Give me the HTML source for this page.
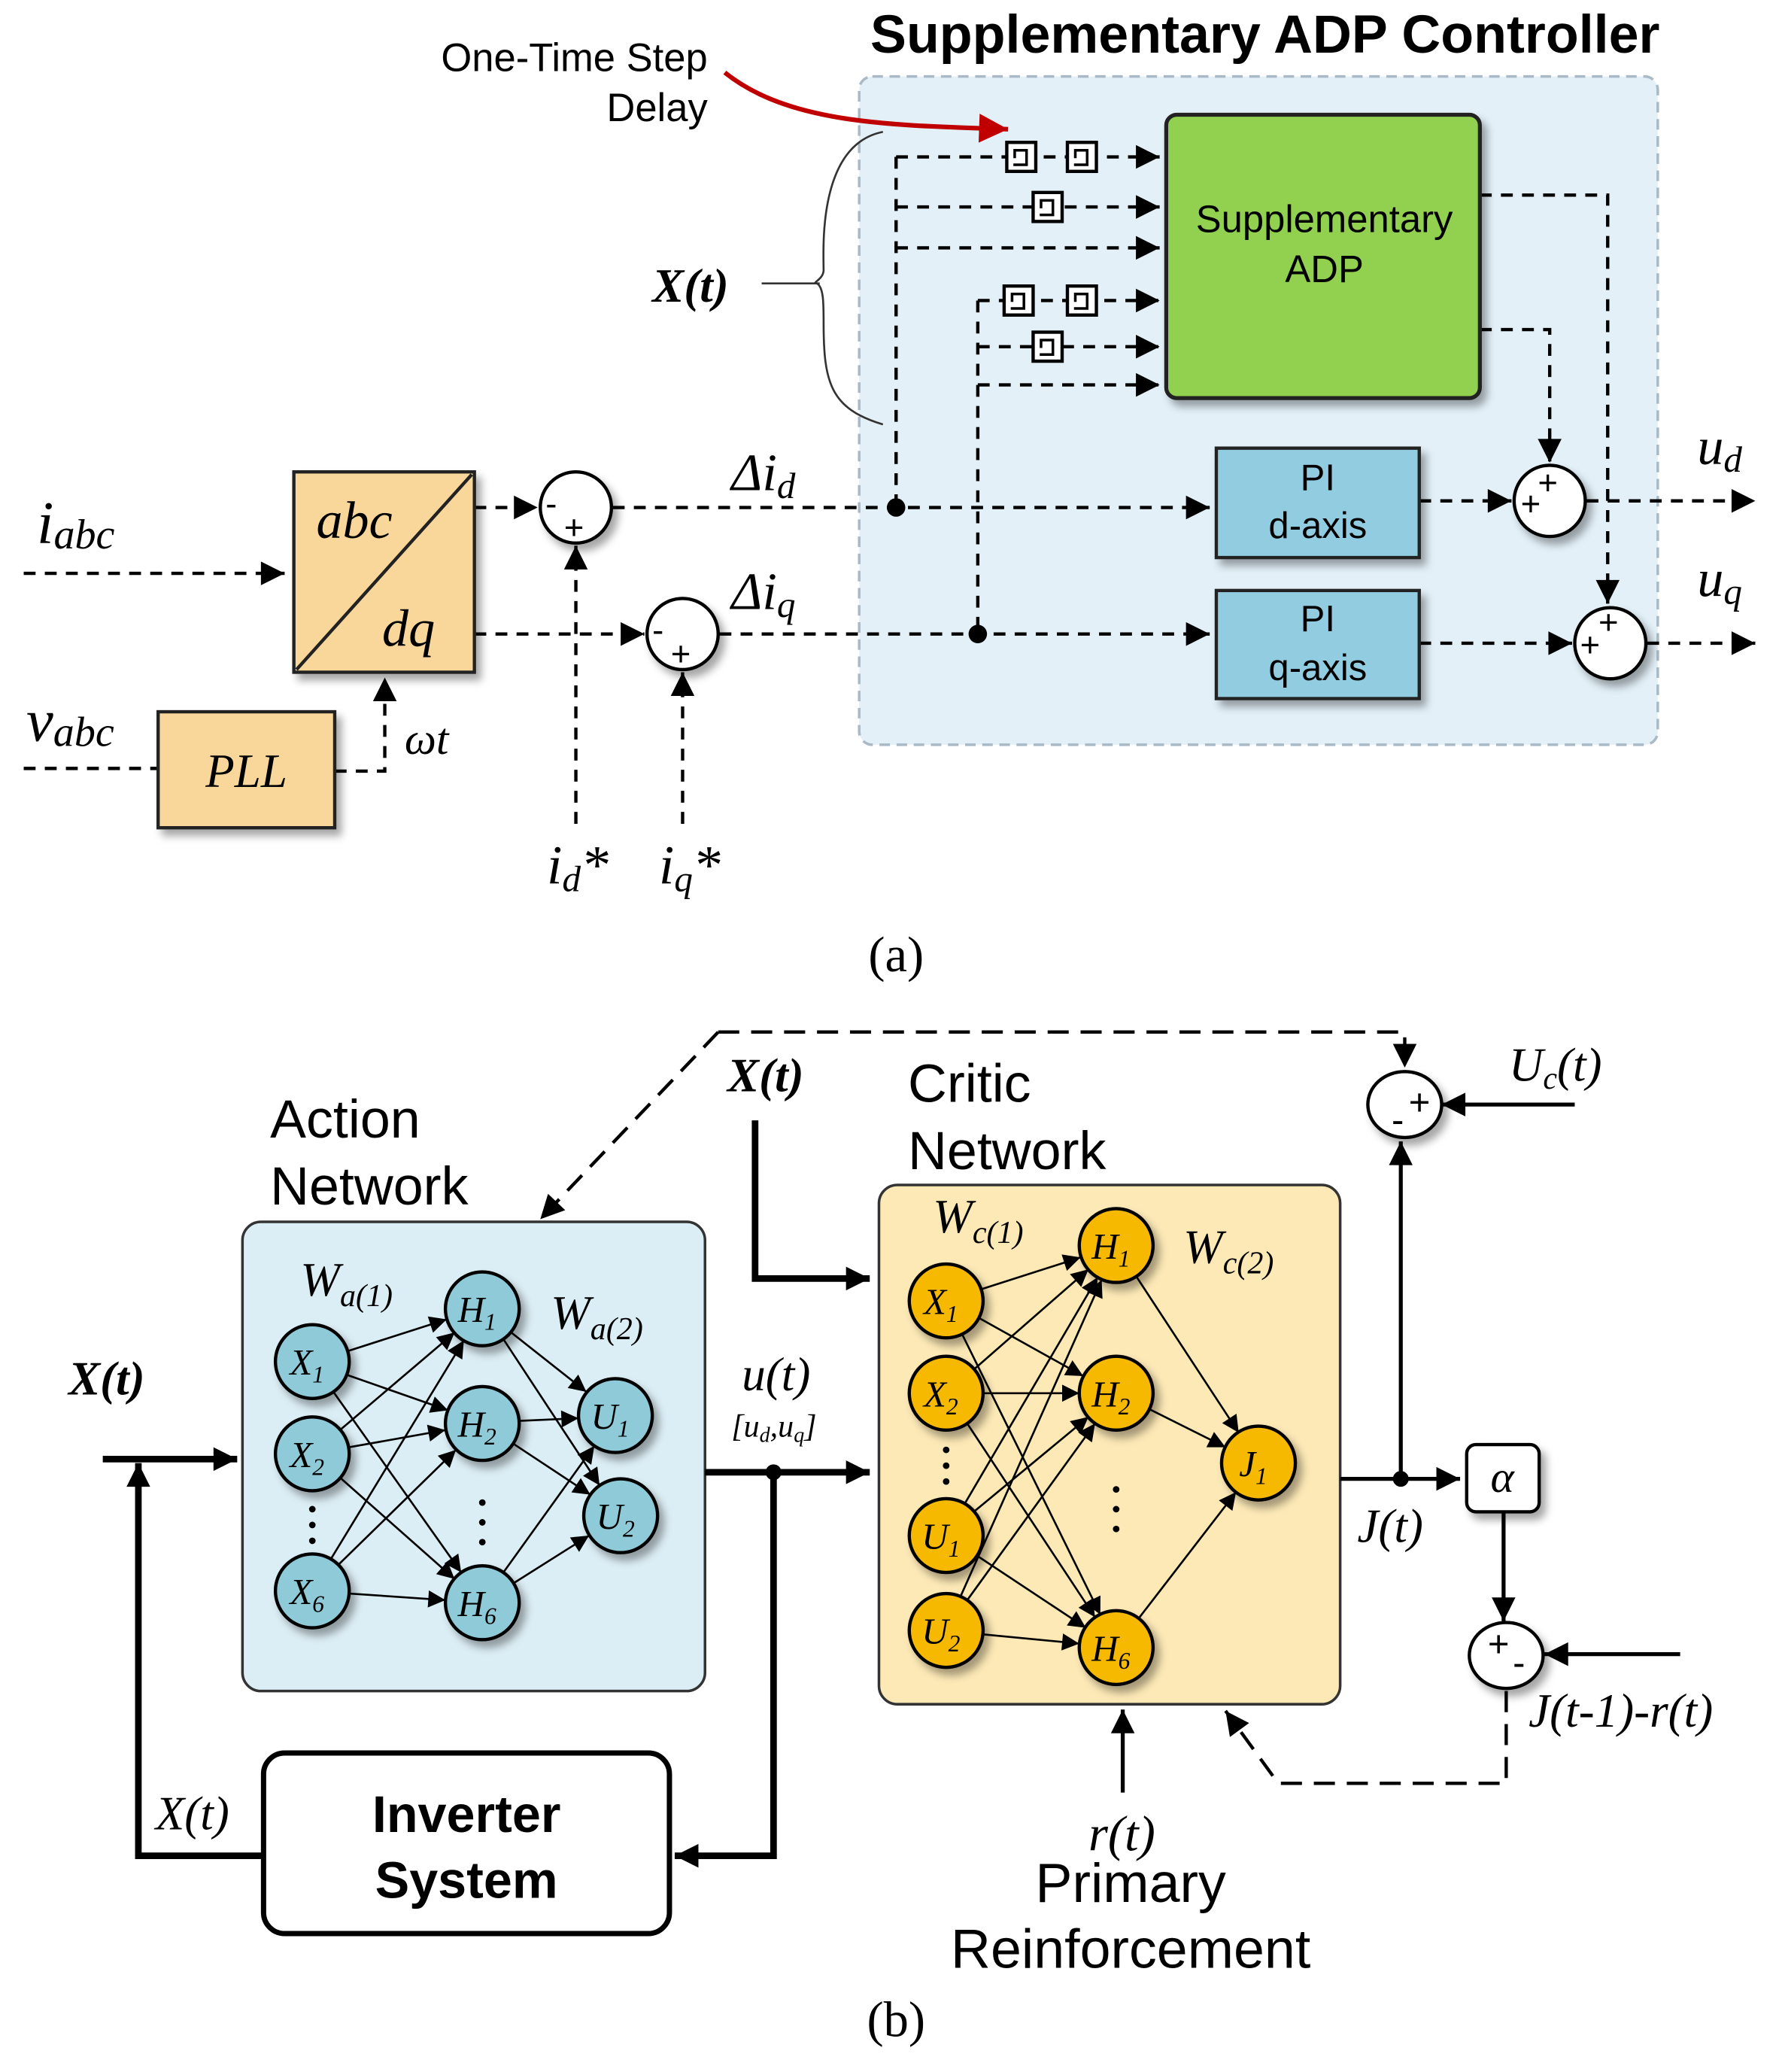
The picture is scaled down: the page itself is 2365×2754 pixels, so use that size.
<!DOCTYPE html>
<html><head><meta charset="utf-8"><style>
html,body{margin:0;padding:0;background:#fff;}
svg{display:block;}
.s{font-family:"Liberation Sans",sans-serif;}
.m{font-family:"Liberation Serif",serif;font-style:italic;}
</style></head><body>
<svg width="2365" height="2754" viewBox="0 0 1350 1572" xmlns="http://www.w3.org/2000/svg">
<defs>
<marker id="a" viewBox="0 0 10 10" refX="10" refY="5" markerWidth="26" markerHeight="18" markerUnits="userSpaceOnUse" orient="auto"><path d="M0,0 L10,5 L0,10 z" fill="#000"/></marker>
<marker id="n" viewBox="0 0 10 10" refX="10" refY="5" markerWidth="18" markerHeight="13" markerUnits="userSpaceOnUse" orient="auto"><path d="M0,0 L10,5 L0,10 z" fill="#000"/></marker>
<marker id="r" viewBox="0 0 10 10" refX="10" refY="5" markerWidth="30" markerHeight="22" markerUnits="userSpaceOnUse" orient="auto"><path d="M0,0 L10,5 L0,10 z" fill="#c00000"/></marker>
<filter id="sh" x="-30%" y="-30%" width="170%" height="170%"><feDropShadow dx="4" dy="5" stdDeviation="3" flood-color="#000" flood-opacity="0.35"/></filter>
</defs>

<!-- ============ (a) ============ -->
<text x="960" y="40" class="s" font-size="41" font-weight="bold" text-anchor="middle">Supplementary ADP Controller</text>
<text x="537" y="54" class="s" font-size="30" text-anchor="end">One-Time Step</text>
<text x="537" y="92" class="s" font-size="30" text-anchor="end">Delay</text>

<rect x="652" y="58" width="606" height="507" rx="10" fill="#e3f0f8" stroke="#a9bac6" stroke-width="2" stroke-dasharray="8,5"/>
<path d="M550,55 C600,95 680,95 765,98" fill="none" stroke="#c00000" stroke-width="3.5" marker-end="url(#r)"/>

<g stroke="#000" stroke-width="2.5" stroke-dasharray="9,7" fill="none">
<line x1="680" y1="119" x2="880" y2="119" marker-end="url(#a)"/>
<line x1="680" y1="157" x2="880" y2="157" marker-end="url(#a)"/>
<line x1="680" y1="188" x2="880" y2="188" marker-end="url(#a)"/>
<line x1="742" y1="228" x2="880" y2="228" marker-end="url(#a)"/>
<line x1="742" y1="263" x2="880" y2="263" marker-end="url(#a)"/>
<line x1="742" y1="292" x2="880" y2="292" marker-end="url(#a)"/>
<line x1="680" y1="119" x2="680" y2="385"/>
<line x1="742" y1="228" x2="742" y2="481"/>
<line x1="18" y1="435" x2="216" y2="435" marker-end="url(#a)"/>
<line x1="18" y1="583" x2="120" y2="583"/>
<polyline points="254,585 292,585 292,514" marker-end="url(#a)"/>
<line x1="360" y1="385" x2="408" y2="385" marker-end="url(#a)"/>
<line x1="360" y1="481" x2="489" y2="481" marker-end="url(#a)"/>
<line x1="437" y1="625" x2="437" y2="414" marker-end="url(#a)"/>
<line x1="518" y1="625" x2="518" y2="510" marker-end="url(#a)"/>
<line x1="465" y1="385" x2="918" y2="385" marker-end="url(#a)"/>
<line x1="546" y1="481" x2="918" y2="481" marker-end="url(#a)"/>
<line x1="1077" y1="380" x2="1147" y2="380" marker-end="url(#a)"/>
<line x1="1077" y1="488" x2="1193" y2="488" marker-end="url(#a)"/>
<line x1="1204" y1="380" x2="1332" y2="380" marker-end="url(#a)"/>
<line x1="1250" y1="488" x2="1332" y2="488" marker-end="url(#a)"/>
<polyline points="1123,148 1220,148 1220,458" marker-end="url(#a)"/>
<polyline points="1123,250 1176,250 1176,351" marker-end="url(#a)"/>
</g>

<g stroke="#000" stroke-width="2.5" fill="#fff">
<rect x="764" y="108" width="22" height="22"/><rect x="810" y="108" width="22" height="22"/>
<rect x="784" y="146" width="22" height="22"/>
<rect x="762" y="217" width="22" height="22"/><rect x="810" y="217" width="22" height="22"/>
<rect x="784" y="252" width="22" height="22"/>
</g>
<g stroke="#000" stroke-width="2" fill="none">
<path d="M769,125 h10 v-11 h-9 v6"/><path d="M815,125 h10 v-11 h-9 v6"/>
<path d="M789,163 h10 v-11 h-9 v6"/>
<path d="M767,234 h10 v-11 h-9 v6"/><path d="M815,234 h10 v-11 h-9 v6"/>
<path d="M789,269 h10 v-11 h-9 v6"/>
</g>

<rect x="885" y="87" width="238" height="215" rx="8" fill="#92d050" stroke="#222" stroke-width="3" filter="url(#sh)"/>
<text x="1005" y="176" class="s" font-size="29" text-anchor="middle">Supplementary</text>
<text x="1005" y="214" class="s" font-size="29" text-anchor="middle">ADP</text>

<path d="M670,100 C620,110 625,190 625,205 C625,212 615,215 620,215 C625,218 625,230 625,245 C625,290 630,310 670,322" fill="none" stroke="#333" stroke-width="1.5"/>
<line x1="578" y1="215" x2="622" y2="215" stroke="#333" stroke-width="1.5"/>
<text x="495" y="229" class="m" font-size="36" font-weight="bold">X(t)</text>

<rect x="223" y="358" width="137" height="152" fill="#f9d79b" stroke="#222" stroke-width="2.5" filter="url(#sh)"/>
<line x1="225" y1="508" x2="358" y2="360" stroke="#222" stroke-width="2.5"/>
<text x="240" y="408" class="m" font-size="40">abc</text>
<text x="290" y="490" class="m" font-size="40">dq</text>
<rect x="120" y="540" width="134" height="88" fill="#f9d79b" stroke="#222" stroke-width="2.5" filter="url(#sh)"/>
<text x="187" y="597" class="m" font-size="36" text-anchor="middle">PLL</text>

<text x="28" y="412" class="m" font-size="46">i<tspan font-size="32" dy="4">abc</tspan></text>
<text x="20" y="562" class="m" font-size="46">v<tspan font-size="32" dy="4">abc</tspan></text>
<text x="307" y="572" class="m" font-size="34">ωt</text>
<text x="415" y="670" class="m" font-size="42">i<tspan font-size="28" dy="6">d</tspan><tspan dy="-6">*</tspan></text>
<text x="500" y="670" class="m" font-size="42">i<tspan font-size="28" dy="6">q</tspan><tspan dy="-6">*</tspan></text>
<text x="555" y="372" class="m" font-size="40">Δi<tspan font-size="28" dy="6">d</tspan></text>
<text x="555" y="462" class="m" font-size="40">Δi<tspan font-size="28" dy="6">q</tspan></text>
<text x="1288" y="352" class="m" font-size="40">u<tspan font-size="28" dy="6">d</tspan></text>
<text x="1288" y="452" class="m" font-size="40">u<tspan font-size="28" dy="6">q</tspan></text>

<g stroke="#000" stroke-width="2.5" fill="#fff" filter="url(#sh)">
<circle cx="437" cy="385" r="27"/><circle cx="518" cy="481" r="27"/>
<circle cx="1176" cy="380" r="27"/><circle cx="1222" cy="488" r="27"/>
</g>
<g class="s" font-size="26">
<text x="414" y="391">-</text><text x="428" y="409">+</text>
<text x="495" y="487">-</text><text x="509" y="505">+</text>
<text x="1154" y="391">+</text><text x="1167" y="375">+</text>
<text x="1199" y="498">+</text><text x="1213" y="481">+</text>
</g>
<circle cx="680" cy="385" r="7" fill="#000"/><circle cx="742" cy="481" r="7" fill="#000"/>

<rect x="923" y="340" width="154" height="83" fill="#92cce0" stroke="#222" stroke-width="2.5" filter="url(#sh)"/>
<text x="1000" y="372" class="s" font-size="28" text-anchor="middle">PI</text>
<text x="1000" y="408" class="s" font-size="28" text-anchor="middle">d-axis</text>
<rect x="923" y="448" width="154" height="82" fill="#92cce0" stroke="#222" stroke-width="2.5" filter="url(#sh)"/>
<text x="1000" y="479" class="s" font-size="28" text-anchor="middle">PI</text>
<text x="1000" y="516" class="s" font-size="28" text-anchor="middle">q-axis</text>

<text x="680" y="737" font-family="Liberation Serif,serif" font-size="38" text-anchor="middle">(a)</text>

<!-- ============ (b) ============ -->
<polyline points="545,783 1066,783 1066,810" fill="none" stroke="#000" stroke-width="2.5" stroke-dasharray="16,9" marker-end="url(#a)"/>
<line x1="545" y1="783" x2="410" y2="925" stroke="#000" stroke-width="2.5" stroke-dasharray="16,9" marker-end="url(#a)"/>

<text x="205" y="863" class="s" font-size="41">Action</text>
<text x="205" y="914" class="s" font-size="41">Network</text>
<text x="689" y="836" class="s" font-size="41">Critic</text>
<text x="689" y="887" class="s" font-size="41">Network</text>
<text x="552" y="828" class="m" font-size="36" font-weight="bold">X(t)</text>
<text x="52" y="1058" class="m" font-size="36" font-weight="bold">X(t)</text>

<rect x="184" y="927" width="351" height="356" rx="14" fill="#dceef5" stroke="#333" stroke-width="2"/>
<rect x="667" y="899" width="350" height="394" rx="14" fill="#fde9b6" stroke="#333" stroke-width="2"/>

<g stroke="#000" stroke-width="5" fill="none">
<polyline points="573,850 573,970 660,970" marker-end="url(#a)"/>
<line x1="78" y1="1107" x2="180" y2="1107" marker-end="url(#a)"/>
<polyline points="200,1408 105,1408 105,1110" marker-end="url(#a)"/>
<line x1="535" y1="1117" x2="660" y2="1117" marker-end="url(#a)"/>
<polyline points="587,1117 587,1408 512,1408" marker-end="url(#a)"/>
</g>
<g stroke="#000" stroke-width="3" fill="none">
<line x1="1017" y1="1122" x2="1108" y2="1122" marker-end="url(#a)"/>
<line x1="1063" y1="1122" x2="1063" y2="866" marker-end="url(#a)"/>
<line x1="1141" y1="1147" x2="1141" y2="1230" marker-end="url(#a)"/>
<line x1="1195" y1="838" x2="1094" y2="838" marker-end="url(#a)"/>
<line x1="1275" y1="1255" x2="1172" y2="1255" marker-end="url(#a)"/>
<line x1="852" y1="1360" x2="852" y2="1297" marker-end="url(#a)"/>
</g>
<polyline points="1143,1283 1143,1353 970,1353 930,1298" fill="none" stroke="#000" stroke-width="2.5" stroke-dasharray="16,9" marker-end="url(#a)"/>
<circle cx="587" cy="1117" r="6" fill="#000"/><circle cx="1063" cy="1122" r="6" fill="#000"/>

<g stroke="#000" stroke-width="2.5" fill="#fff" filter="url(#sh)">
<ellipse cx="1066" cy="838" rx="28" ry="25"/><ellipse cx="1143" cy="1256" rx="28" ry="25"/>
<rect x="1113" y="1096" width="55" height="51" rx="7"/>
</g>
<g class="s" font-size="28">
<text x="1056" y="859">-</text><text x="1069" y="846">+</text>
<text x="1129" y="1257">+</text><text x="1148" y="1271">-</text>
</g>
<text x="1140" y="1132" class="m" font-size="34" text-anchor="middle">α</text>
<text x="1145" y="820" class="m" font-size="36">U<tspan font-size="24" dy="6">c</tspan><tspan dy="-6">(t)</tspan></text>
<text x="1030" y="1170" class="m" font-size="36">J(t)</text>
<text x="1160" y="1310" class="m" font-size="36">J(t-1)-r(t)</text>
<text x="826" y="1404" class="m" font-size="38">r(t)</text>
<text x="858" y="1443" class="s" font-size="42" text-anchor="middle">Primary</text>
<text x="858" y="1493" class="s" font-size="42" text-anchor="middle">Reinforcement</text>
<text x="563" y="1055" class="m" font-size="36">u(t)</text>
<text x="555" y="1090" class="m" font-size="24">[u<tspan font-size="16" dy="4">d</tspan><tspan dy="-4">,u</tspan><tspan font-size="16" dy="4">q</tspan><tspan dy="-4">]</tspan></text>
<text x="118" y="1388" class="m" font-size="36">X(t)</text>

<rect x="200" y="1330" width="308" height="137" rx="16" fill="#fff" stroke="#000" stroke-width="4"/>
<text x="354" y="1390" class="s" font-size="39" font-weight="bold" text-anchor="middle">Inverter</text>
<text x="354" y="1440" class="s" font-size="39" font-weight="bold" text-anchor="middle">System</text>

<g stroke="#000" stroke-width="1.5" marker-end="url(#n)">
<line x1="264" y1="1025" x2="339" y2="1001"/><line x1="263" y1="1043" x2="340" y2="1070"/><line x1="253" y1="1056" x2="350" y2="1193"/>
<line x1="258" y1="1085" x2="345" y2="1011"/><line x1="265" y1="1098" x2="338" y2="1085"/><line x1="258" y1="1121" x2="345" y2="1198"/>
<line x1="251" y1="1183" x2="352" y2="1017"/><line x1="257" y1="1187" x2="346" y2="1100"/><line x1="265" y1="1209" x2="338" y2="1214"/>
<line x1="388" y1="1011" x2="445" y2="1056"/><line x1="382" y1="1016" x2="455" y2="1127"/><line x1="394" y1="1078" x2="439" y2="1076"/>
<line x1="389" y1="1095" x2="448" y2="1134"/><line x1="382" y1="1193" x2="451" y2="1097"/><line x1="390" y1="1201" x2="447" y2="1165"/>
</g>
<g stroke="#000" stroke-width="1.5" marker-end="url(#n)">
<line x1="745" y1="978" x2="820" y2="954"/><line x1="743" y1="1000" x2="822" y2="1044"/><line x1="730" y1="1012" x2="835" y2="1225"/>
<line x1="739" y1="1039" x2="826" y2="963"/><line x1="746" y1="1057" x2="819" y2="1057"/><line x1="734" y1="1080" x2="831" y2="1227"/>
<line x1="732" y1="1141" x2="833" y2="969"/><line x1="739" y1="1147" x2="826" y2="1075"/><line x1="741" y1="1180" x2="824" y2="1235"/>
<line x1="729" y1="1211" x2="836" y2="971"/><line x1="734" y1="1214" x2="831" y2="1080"/><line x1="746" y1="1240" x2="819" y2="1247"/>
<line x1="862" y1="968" x2="940" y2="1087"/><line x1="872" y1="1069" x2="930" y2="1098"/><line x1="864" y1="1228" x2="938" y2="1132"/>
</g>

<g stroke="#000" stroke-width="2.5" fill="#8fcad8" filter="url(#sh)">
<circle cx="237" cy="1033" r="28"/><circle cx="237" cy="1103" r="28"/><circle cx="237" cy="1207" r="28"/>
<circle cx="366" cy="993" r="28"/><circle cx="366" cy="1080" r="28"/><circle cx="366" cy="1216" r="28"/>
<circle cx="467" cy="1074" r="28"/><circle cx="471" cy="1150" r="28"/>
</g>
<g stroke="#000" stroke-width="2.5" fill="#f6b900" filter="url(#sh)">
<circle cx="718" cy="987" r="28"/><circle cx="718" cy="1057" r="28"/><circle cx="718" cy="1165" r="28"/><circle cx="718" cy="1237" r="28"/>
<circle cx="847" cy="945" r="28"/><circle cx="847" cy="1057" r="28"/><circle cx="847" cy="1250" r="28"/>
<circle cx="955" cy="1110" r="28"/>
</g>
<g class="m" font-size="28" text-anchor="middle">
<text x="233" y="1043">X<tspan font-size="18" dy="6">1</tspan></text>
<text x="233" y="1113">X<tspan font-size="18" dy="6">2</tspan></text>
<text x="233" y="1217">X<tspan font-size="18" dy="6">6</tspan></text>
<text x="362" y="1003">H<tspan font-size="18" dy="6">1</tspan></text>
<text x="362" y="1090">H<tspan font-size="18" dy="6">2</tspan></text>
<text x="362" y="1226">H<tspan font-size="18" dy="6">6</tspan></text>
<text x="463" y="1084">U<tspan font-size="18" dy="6">1</tspan></text>
<text x="467" y="1160">U<tspan font-size="18" dy="6">2</tspan></text>
<text x="714" y="997">X<tspan font-size="18" dy="6">1</tspan></text>
<text x="714" y="1067">X<tspan font-size="18" dy="6">2</tspan></text>
<text x="714" y="1175">U<tspan font-size="18" dy="6">1</tspan></text>
<text x="714" y="1247">U<tspan font-size="18" dy="6">2</tspan></text>
<text x="843" y="955">H<tspan font-size="18" dy="6">1</tspan></text>
<text x="843" y="1067">H<tspan font-size="18" dy="6">2</tspan></text>
<text x="843" y="1260">H<tspan font-size="18" dy="6">6</tspan></text>
<text x="951" y="1120">J<tspan font-size="18" dy="6">1</tspan></text>
</g>
<g fill="#000">
<circle cx="237" cy="1145" r="2.5"/><circle cx="237" cy="1157" r="2.5"/><circle cx="237" cy="1169" r="2.5"/>
<circle cx="366" cy="1140" r="2.5"/><circle cx="366" cy="1155" r="2.5"/><circle cx="366" cy="1170" r="2.5"/>
<circle cx="718" cy="1100" r="2.5"/><circle cx="718" cy="1112" r="2.5"/><circle cx="718" cy="1124" r="2.5"/>
<circle cx="847" cy="1130" r="2.5"/><circle cx="847" cy="1145" r="2.5"/><circle cx="847" cy="1160" r="2.5"/>
</g>
<g class="m" font-size="36">
<text x="228" y="983">W<tspan font-size="24" dy="8">a(1)</tspan></text>
<text x="418" y="1008">W<tspan font-size="24" dy="8">a(2)</tspan></text>
<text x="708" y="935">W<tspan font-size="24" dy="8">c(1)</tspan></text>
<text x="898" y="958">W<tspan font-size="24" dy="8">c(2)</tspan></text>
</g>

<text x="680" y="1545" font-family="Liberation Serif,serif" font-size="38" text-anchor="middle">(b)</text>
</svg>
</body></html>
